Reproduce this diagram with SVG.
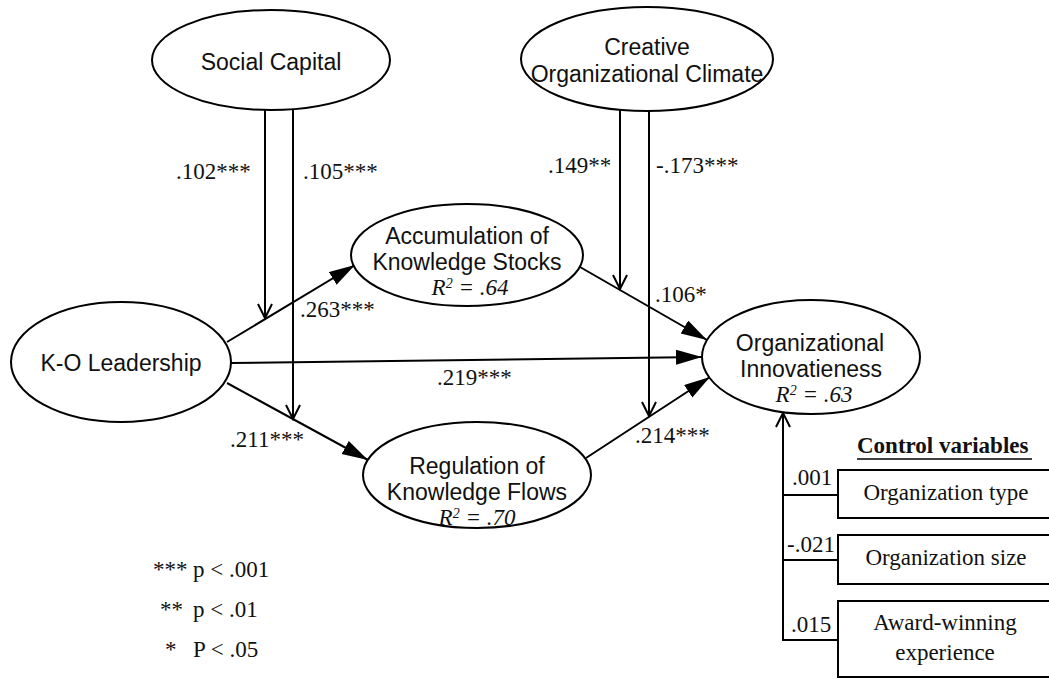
<svg xmlns="http://www.w3.org/2000/svg" width="1049" height="679" viewBox="0 0 1049 679">
  <defs>
    <style>
      .node { fill: #fff; stroke: #000; stroke-width: 2; }
      .box { fill: #fff; stroke: #000; stroke-width: 2; }
      .edge { fill: none; stroke: #000; stroke-width: 2; }
      .sans { font-family: "Liberation Sans", Arial, sans-serif; font-size: 23px; fill: #111; text-anchor: middle; }
      .serif { font-family: "Liberation Serif", "Times New Roman", serif; font-size: 23px; fill: #111; }
      .r2 { font-family: "Liberation Serif", "Times New Roman", serif; font-size: 23px; font-style: italic; fill: #111; text-anchor: middle; }
      .mid { text-anchor: middle; }
    </style>
    <marker id="solid" markerUnits="userSpaceOnUse" markerWidth="28" markerHeight="16" refX="26" refY="7.5" orient="auto">
      <path d="M0,0 L26,7.5 L0,15 Z" fill="#000"/>
    </marker>
    <marker id="open" markerUnits="userSpaceOnUse" markerWidth="18" markerHeight="18" refX="15" refY="8" orient="auto">
      <path d="M1,1 L15,8 L1,15" fill="none" stroke="#000" stroke-width="2"/>
    </marker>
  </defs>

  <rect width="1049" height="679" fill="#fff"/>

  <!-- paths between constructs -->
  <g id="connectors">
    <line class="edge" x1="227" y1="342" x2="355" y2="265" marker-end="url(#solid)"/>
    <line class="edge" x1="227" y1="383" x2="368" y2="460" marker-end="url(#solid)"/>
    <line class="edge" x1="231" y1="363" x2="702" y2="357" marker-end="url(#solid)"/>
    <line class="edge" x1="580" y1="267" x2="707" y2="340" marker-end="url(#solid)"/>
    <line class="edge" x1="586" y1="458" x2="710" y2="377" marker-end="url(#solid)"/>
    <!-- moderating paths -->
    <line class="edge" x1="265" y1="108" x2="265" y2="318" marker-end="url(#open)"/>
    <line class="edge" x1="293" y1="108" x2="293" y2="419" marker-end="url(#open)"/>
    <line class="edge" x1="620" y1="110" x2="620" y2="289" marker-end="url(#open)"/>
    <line class="edge" x1="649" y1="110" x2="649" y2="416" marker-end="url(#open)"/>
    <!-- control variable paths -->
    <line class="edge" x1="783" y1="641" x2="783" y2="413" marker-end="url(#open)"/>
    <line class="edge" x1="782" y1="495" x2="838" y2="495"/>
    <line class="edge" x1="782" y1="560" x2="838" y2="560"/>
    <line class="edge" x1="782" y1="640" x2="838" y2="640"/>
  </g>

  <g id="social-capital">
    <ellipse class="node" cx="271" cy="60" rx="119" ry="50"/>
    <text class="sans" x="271" y="70">Social Capital</text>
  </g>

  <g id="creative-climate">
    <ellipse class="node" cx="647" cy="59" rx="126" ry="52"/>
    <text class="sans" x="647" y="55">Creative</text>
    <text class="sans" x="647" y="82">Organizational Climate</text>
  </g>

  <g id="ko-leadership">
    <ellipse class="node" cx="121" cy="362" rx="110" ry="60"/>
    <text class="sans" x="121" y="371">K-O Leadership</text>
  </g>

  <g id="accumulation">
    <ellipse class="node" cx="467" cy="255" rx="116" ry="51"/>
    <text class="sans" x="467" y="244">Accumulation of</text>
    <text class="sans" x="467" y="270">Knowledge Stocks</text>
    <text class="r2" x="470" y="295">R<tspan dy="-7" font-size="14">2</tspan><tspan dy="7"> = .64</tspan></text>
  </g>

  <g id="regulation">
    <ellipse class="node" cx="477" cy="475" rx="114" ry="53"/>
    <text class="sans" x="477" y="474">Regulation of</text>
    <text class="sans" x="477" y="500">Knowledge Flows</text>
    <text class="r2" x="477" y="525">R<tspan dy="-7" font-size="14">2</tspan><tspan dy="7"> = .70</tspan></text>
  </g>

  <g id="innovativeness">
    <ellipse class="node" cx="811" cy="357" rx="109" ry="57"/>
    <text class="sans" x="810" y="351">Organizational</text>
    <text class="sans" x="811" y="377">Innovatieness</text>
    <text class="r2" x="814" y="402">R<tspan dy="-7" font-size="14">2</tspan><tspan dy="7"> = .63</tspan></text>
  </g>

  <!-- path coefficients -->
  <g id="coefficients" class="serif">
    <text x="176" y="179">.102***</text>
    <text x="303" y="179">.105***</text>
    <text x="548" y="173">.149**</text>
    <text x="656" y="173">-.173***</text>
    <text x="300" y="317">.263***</text>
    <text x="230" y="447">.211***</text>
    <text x="437" y="385">.219***</text>
    <text x="655" y="302">.106*</text>
    <text x="635" y="443">.214***</text>
    <text x="792" y="485">.001</text>
    <text x="787" y="552">-.021</text>
    <text x="791" y="632">.015</text>
  </g>

  <g id="control-variables">
    <text class="serif" x="857" y="453" font-weight="bold">Control variables</text>
    <line x1="857" y1="459" x2="1032" y2="459" stroke="#000" stroke-width="1.5"/>
    <g id="org-type">
      <rect class="box" x="838" y="470" width="220" height="48"/>
      <text class="serif mid" x="946" y="500">Organization type</text>
    </g>
    <g id="org-size">
      <rect class="box" x="838" y="535" width="220" height="49"/>
      <text class="serif mid" x="946" y="565">Organization size</text>
    </g>
    <g id="award">
      <rect class="box" x="838" y="601" width="220" height="76"/>
      <text class="serif mid" x="945" y="630">Award-winning</text>
      <text class="serif mid" x="945" y="660">experience</text>
    </g>
  </g>

  <g id="legend" class="serif">
    <text x="153" y="577">***<tspan x="193">p &lt; .001</tspan></text>
    <text x="160" y="617">**<tspan x="193">p &lt; .01</tspan></text>
    <text x="165" y="657">*<tspan x="193">P &lt; .05</tspan></text>
  </g>
</svg>
